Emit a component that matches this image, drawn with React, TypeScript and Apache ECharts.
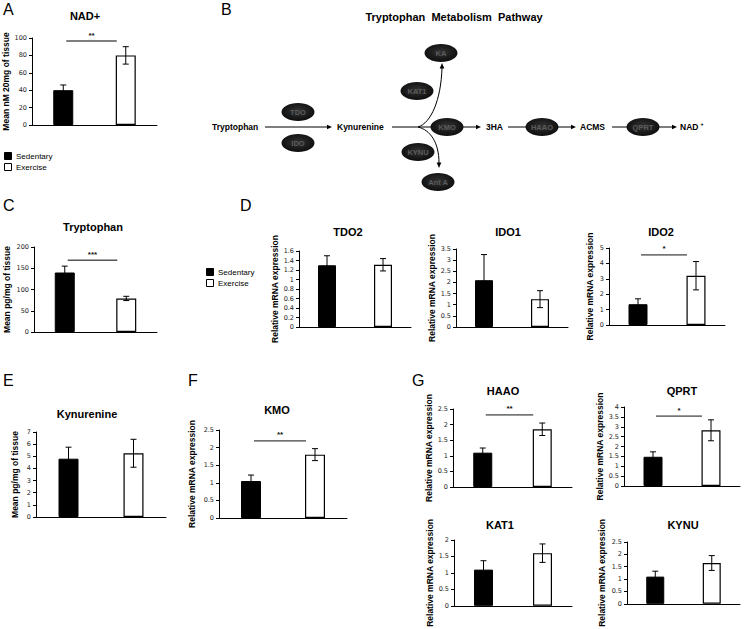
import React, { useEffect, useRef } from 'react';
import * as echarts from 'echarts';

const groups = ['Sedentary', 'Exercise'];

const nadMean = [40, 80];
const nadErr = [6, 10];
const trpMean = [140, 79];
const trpErr = [15, 5];
const tdo2Mean = [1.3, 1.31];
const tdo2Err = [0.2, 0.13];
const ido1Mean = [2.1, 1.25];
const ido1Err = [1.15, 0.38];
const ido2Mean = [1.35, 3.2];
const ido2Err = [0.35, 0.92];
const kynMean = [4.8, 5.25];
const kynErr = [0.95, 1.15];
const kmoMean = [1.05, 1.8];
const kmoErr = [0.17, 0.17];
const haaoMean = [1.1, 1.85];
const haaoErr = [0.15, 0.2];
const qprtMean = [1.48, 2.82];
const qprtErr = [0.25, 0.53];
const kat1Mean = [1.1, 1.6];
const kat1Err = [0.27, 0.28];
const kynuMean = [1.1, 1.65];
const kynuErr = [0.22, 0.3];

// significance bar heights (in data units) and labels
const sigLevels = { nad: 96.5, trp: 169, ido2: 4.55, kmo: 2.19, haao: 2.31, qprt: 3.54 };
const sigStars = { nad: '**', trp: '***', ido2: '*', kmo: '**', haao: '**', qprt: '*' };

const FONT = '"Liberation Sans", Arial, sans-serif';
const TICKFONT = '"DejaVu Sans", sans-serif';

type Panel = {
  title: string; mean: number[]; err: number[]; max: number; interval: number;
  yName: string; sig?: number; stars?: string; sigColor?: string;
  g: { left: number; top: number; width: number; height: number };
  tx: number; ty: number; nameGap: number; bw: number;
};

const panels: Panel[] = [
  { title: 'NAD+', mean: nadMean, err: nadErr, max: 100, interval: 20, yName: 'Mean nM 20mg of tissue', sig: sigLevels.nad, stars: sigStars.nad, sigColor: '#555', g: { left: 32, top: 38, width: 125, height: 87 }, tx: 85, ty: 16, nameGap: 21, bw: 20 },
  { title: 'Tryptophan', mean: trpMean, err: trpErr, max: 200, interval: 50, yName: 'Mean pg/mg of tissue', sig: sigLevels.trp, stars: sigStars.trp, sigColor: '#555', g: { left: 34, top: 247, width: 123, height: 85 }, tx: 93, ty: 227, nameGap: 23, bw: 20 },
  { title: 'TDO2', mean: tdo2Mean, err: tdo2Err, max: 1.6, interval: 0.2, yName: 'Relative mRNA expression', g: { left: 299, top: 251, width: 112, height: 76 }, tx: 348, ty: 232, nameGap: 16, bw: 18 },
  { title: 'IDO1', mean: ido1Mean, err: ido1Err, max: 3.5, interval: 0.5, yName: 'Relative mRNA expression', g: { left: 456, top: 249, width: 112, height: 78 }, tx: 508, ty: 232, nameGap: 18, bw: 18 },
  { title: 'IDO2', mean: ido2Mean, err: ido2Err, max: 5, interval: 1, yName: 'Relative mRNA expression', sig: sigLevels.ido2, stars: sigStars.ido2, g: { left: 609, top: 248, width: 116, height: 77 }, tx: 661, ty: 232, nameGap: 15, bw: 19 },
  { title: 'Kynurenine', mean: kynMean, err: kynErr, max: 7, interval: 1, yName: 'Mean pg/mg of tissue', g: { left: 36, top: 432, width: 130, height: 85 }, tx: 87, ty: 414, nameGap: 17, bw: 20 },
  { title: 'KMO', mean: kmoMean, err: kmoErr, max: 2.5, interval: 0.5, yName: 'Relative mRNA expression', sig: sigLevels.kmo, stars: sigStars.kmo, g: { left: 219, top: 430, width: 128, height: 88 }, tx: 277, ty: 410, nameGap: 23, bw: 20 },
  { title: 'HAAO', mean: haaoMean, err: haaoErr, max: 2.5, interval: 0.5, yName: 'Relative mRNA expression', sig: sigLevels.haao, stars: sigStars.haao, g: { left: 453, top: 409, width: 119, height: 78 }, tx: 503, ty: 391, nameGap: 19, bw: 19 },
  { title: 'QPRT', mean: qprtMean, err: qprtErr, max: 4, interval: 0.5, yName: 'Relative mRNA expression', sig: sigLevels.qprt, stars: sigStars.qprt, g: { left: 624, top: 407, width: 116, height: 79 }, tx: 682, ty: 391, nameGap: 20, bw: 19 },
  { title: 'KAT1', mean: kat1Mean, err: kat1Err, max: 2, interval: 0.5, yName: 'Relative mRNA expression', g: { left: 454, top: 540, width: 118, height: 78 }, tx: 500, ty: 525, nameGap: 18, bw: 19 },
  { title: 'KYNU', mean: kynuMean, err: kynuErr, max: 2.5, interval: 0.5, yName: 'Relative mRNA expression', g: { left: 627, top: 542, width: 113, height: 76 }, tx: 683, ty: 525, nameGap: 21, bw: 18 },
];

function txt(x: number, y: number, text: string, size: number, opts: any = {}) {
  return {
    type: 'text', x, y, silent: true, z: opts.z || 10,
    style: {
      text, fontSize: size, fontFamily: opts.family || FONT, fontWeight: opts.weight || 'normal',
      fill: opts.fill || '#000',
      align: opts.align || 'center', textAlign: opts.align || 'center',
      verticalAlign: 'middle', textVerticalAlign: 'middle',
    },
  };
}

function ellipse(cx: number, cy: number, label: string) {
  return [
    {
      type: 'ellipse', shape: { cx, cy, rx: 16.5, ry: 9 }, z: 5,
      style: {
        fill: new echarts.graphic.RadialGradient(0.5, 0.45, 0.6, [
          { offset: 0, color: '#333333' },
          { offset: 1, color: '#0a0a0a' },
        ]),
      },
    },
    txt(cx, cy, label, 7.5, { weight: 'bold', fill: '#5c5c5c', z: 6 }),
  ];
}

function hArrow(x1: number, x2: number, y: number) {
  return [
    { type: 'line', shape: { x1, y1: y, x2: x2 - 3, y2: y }, style: { stroke: '#000', lineWidth: 1 }, z: 3 },
    { type: 'polygon', shape: { points: [[x2, y], [x2 - 5, y - 2.3], [x2 - 5, y + 2.3]] }, style: { fill: '#000' }, z: 3 },
  ];
}

function buildOption() {
  const grid: any[] = [];
  const xAxis: any[] = [];
  const yAxis: any[] = [];
  const series: any[] = [];
  const graphic: any[] = [];

  panels.forEach((p, i) => {
    grid.push({ ...p.g, containLabel: false });
    xAxis.push({
      type: 'category', gridIndex: i, data: groups,
      axisLine: { show: true, lineStyle: { color: '#000', width: 1 } },
      axisTick: { show: false }, axisLabel: { show: false }, splitLine: { show: false },
    });
    yAxis.push({
      type: 'value', gridIndex: i, min: 0, max: p.max, interval: p.interval,
      axisLine: { show: true, lineStyle: { color: '#000', width: 1 } },
      axisTick: { show: true, length: 3, lineStyle: { color: '#000' } },
      axisLabel: { fontSize: 6.5, fontFamily: TICKFONT, color: '#222', margin: 5 },
      splitLine: { show: false },
      name: p.yName, nameLocation: 'middle', nameRotate: 90, nameGap: p.nameGap,
      nameTextStyle: { fontSize: 8.5, fontWeight: 'bold', fontFamily: FONT, color: '#000' },
    });
    series.push({
      type: 'bar', xAxisIndex: i, yAxisIndex: i, barWidth: p.bw,
      data: p.mean.map((v, k) => ({
        value: v,
        itemStyle: k === 0
          ? { color: '#000', borderColor: '#000', borderWidth: 1 }
          : { color: '#fff', borderColor: '#000', borderWidth: 1.2 },
      })),
    });
    series.push({
      type: 'custom', xAxisIndex: i, yAxisIndex: i, z: 5,
      data: p.mean.map((v, k) => [k, v, p.err[k]]),
      encode: { x: 0, y: 1 },
      renderItem: (params: any, api: any) => {
        const x = api.value(0), m = api.value(1), e = api.value(2);
        const top = api.coord([x, m + e]);
        const bot = api.coord([x, m - e]);
        const hw = 3;
        const st = { stroke: '#000', lineWidth: 1 };
        return {
          type: 'group', children: [
            { type: 'line', shape: { x1: top[0], y1: top[1], x2: bot[0], y2: bot[1] }, style: st },
            { type: 'line', shape: { x1: top[0] - hw, y1: top[1], x2: top[0] + hw, y2: top[1] }, style: st },
            { type: 'line', shape: { x1: bot[0] - hw, y1: bot[1], x2: bot[0] + hw, y2: bot[1] }, style: st },
          ],
        };
      },
    });
    if (p.sig !== undefined) {
      const stars = p.stars;
      const col = p.sigColor || '#111';
      series.push({
        type: 'custom', xAxisIndex: i, yAxisIndex: i, z: 5,
        data: [[0, p.sig]],
        encode: { x: 0, y: 1 },
        renderItem: (params: any, api: any) => {
          const y = api.value(1);
          const a = api.coord([0, y]);
          const b = api.coord([1, y]);
          const x1 = a[0] + 3, x2 = b[0] - 9;
          return {
            type: 'group', children: [
              { type: 'line', shape: { x1, y1: a[1], x2, y2: a[1] }, style: { stroke: col, lineWidth: col === '#555' ? 1.4 : 1 } },
              { type: 'text', style: { text: stars, x: (x1 + x2) / 2, y: a[1] - 6, fontSize: 8, fontWeight: 'bold', fontFamily: FONT, fill: '#111', align: 'center', verticalAlign: 'middle' } },
            ],
          };
        },
      });
    }
    graphic.push(txt(p.tx, p.ty, p.title, 11, { weight: 'bold' }));
  });

  // panel letters
  const letters: [string, number, number][] = [
    ['A', 3, 9.5], ['B', 221, 9], ['C', 3, 205], ['D', 240, 205], ['E', 3, 380], ['F', 188, 380], ['G', 412, 380],
  ];
  letters.forEach(([l, x, y]) => graphic.push(txt(x, y, l, 16, { align: 'left' })));

  // legends
  const legend = (x: number, y: number) => [
    { type: 'rect', shape: { x: x + 0.5, y: y + 0.5, width: 7, height: 7 }, style: { fill: '#000', stroke: '#000', lineWidth: 1 } },
    txt(x + 12, y + 4, groups[0], 8, { align: 'left' }),
    { type: 'rect', shape: { x: x + 0.5, y: y + 11.5, width: 7, height: 7 }, style: { fill: '#fff', stroke: '#000', lineWidth: 1 } },
    txt(x + 12, y + 15, groups[1], 8, { align: 'left' }),
  ];
  graphic.push(...legend(4, 152));
  graphic.push(...legend(206, 268));

  // pathway diagram
  graphic.push(txt(454, 17, 'Tryptophan  Metabolism  Pathway', 11, { weight: 'bold' }));
  const ry = 127;
  graphic.push(txt(212, ry, 'Tryptophan', 8.5, { weight: 'bold', align: 'left' }));
  graphic.push(...hArrow(265, 332, ry));
  graphic.push(txt(337, ry, 'Kynurenine', 8.5, { weight: 'bold', align: 'left' }));
  graphic.push(...hArrow(392, 481, ry));
  graphic.push(txt(486, ry, '3HA', 8.5, { weight: 'bold', align: 'left' }));
  graphic.push(...hArrow(508, 576, ry));
  graphic.push(txt(580, ry, 'ACMS', 8.5, { weight: 'bold', align: 'left' }));
  graphic.push(...hArrow(612, 677, ry));
  graphic.push(txt(680, ry, 'NAD', 8.5, { weight: 'bold', align: 'left' }));
  graphic.push(txt(702, ry - 3, '+', 6, { weight: 'bold', align: 'center' }));
  // branches
  graphic.push({ type: 'bezierCurve', shape: { x1: 418, y1: ry, cpx1: 431, cpy1: 123, cpx2: 441, cpy2: 100, x2: 442, y2: 68 }, style: { stroke: '#000', lineWidth: 1, fill: null }, z: 3 });
  graphic.push({ type: 'polygon', shape: { points: [[442, 63], [439.7, 68.5], [444.3, 68.5]] }, style: { fill: '#000' }, z: 3 });
  graphic.push({ type: 'bezierCurve', shape: { x1: 418, y1: ry, cpx1: 430, cpy1: 130, cpx2: 439, cpy2: 142, x2: 439, y2: 163 }, style: { stroke: '#000', lineWidth: 1, fill: null }, z: 3 });
  graphic.push({ type: 'polygon', shape: { points: [[439, 168], [436.7, 162.5], [441.3, 162.5]] }, style: { fill: '#000' }, z: 3 });
  // enzymes / metabolites
  graphic.push(...ellipse(298, 112, 'TDO'));
  graphic.push(...ellipse(298, 143, 'IDO'));
  graphic.push(...ellipse(441, 53, 'KA'));
  graphic.push(...ellipse(417, 91, 'KAT1'));
  graphic.push(...ellipse(447, ry, 'KMO'));
  graphic.push(...ellipse(418, 152, 'KYNU'));
  graphic.push(...ellipse(438, 182, 'Ant A'));
  graphic.push(...ellipse(542, ry, 'HAAO'));
  graphic.push(...ellipse(643, ry, 'QPRT'));

  return {
    animation: false,
    backgroundColor: '#fff',
    grid, xAxis, yAxis, series, graphic,
  };
}

export default function App() {
  const ref = useRef<HTMLDivElement>(null);
  useEffect(() => {
    if (!ref.current) return;
    const chart = echarts.init(ref.current, undefined, { renderer: 'svg' });
    chart.setOption(buildOption() as any);
    return () => chart.dispose();
  }, []);
  return (
    <div
      ref={ref}
      style={{ position: 'absolute', left: 0, top: 0, width: 744, height: 629, background: '#fff' }}
    />
  );
}
